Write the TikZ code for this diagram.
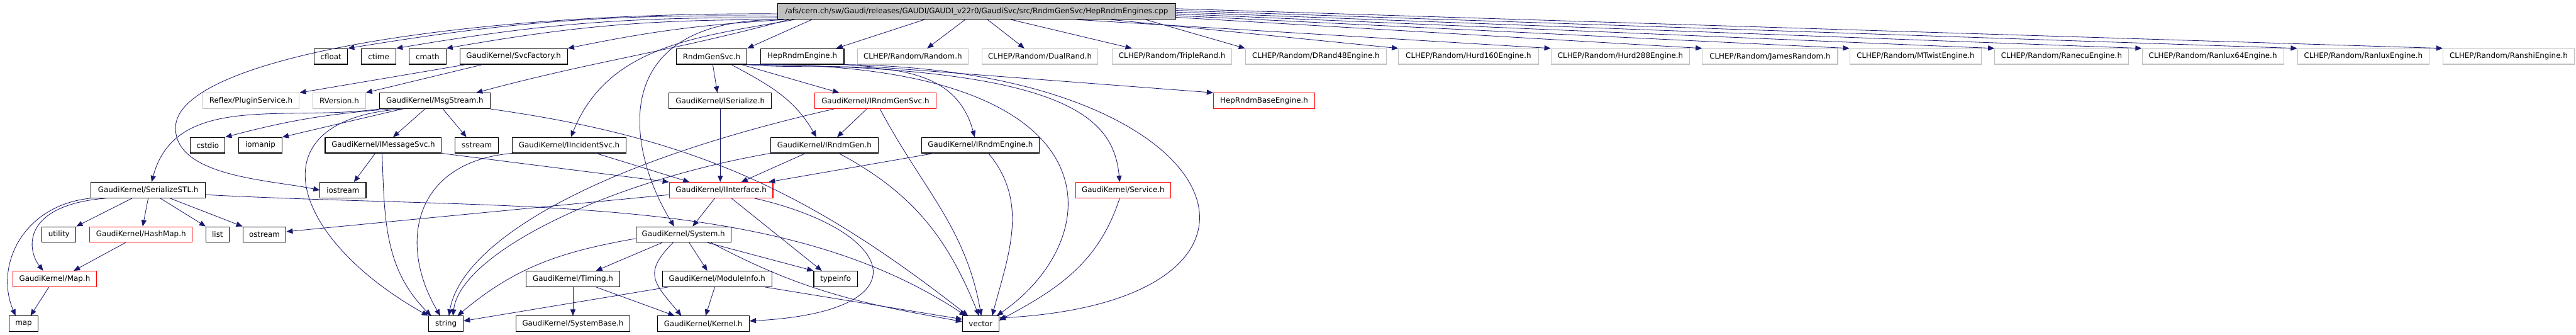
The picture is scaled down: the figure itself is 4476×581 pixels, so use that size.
\documentclass[tikz,border=0pt]{standalone}
\usepackage{fontspec}
\setmainfont{DejaVu Sans}
\usetikzlibrary{arrows.meta}
\definecolor{edgeblue}{HTML}{191970}
\newcommand{\filefont}{\fontsize{13pt}{15pt}\selectfont}

\begin{document}
\begin{tikzpicture}[x=1pt, y=1pt, >={Triangle[length=11pt,width=9pt]},
  file/.style={draw=black, line width=1.2pt, minimum height=27pt, inner sep=0pt, font=\filefont},
  redfile/.style={file, draw=red},
  extfile/.style={file, draw=gray!50},
  rootfile/.style={file, fill=gray!50},
  dep/.style={->, draw=edgeblue, line width=0.9pt}]

  \useasboundingbox (0,0) rectangle (4476,581);

  % Source file
  \node[rootfile, minimum width=692pt] (root) at (1697,561)
    {/afs/cern.ch/sw/Gaudi/releases/GAUDI/GAUDI\_v22r0/GaudiSvc/src/RndmGenSvc/HepRndmEngines.cpp};

  % Row 1
  \node[file, minimum width=58pt] (cfloat) at (575,483) {cfloat};
  \node[file, minimum width=60pt] (ctime) at (658,483) {ctime};
  \node[file, minimum width=64pt] (cmath) at (743,483) {cmath};
  \node[file, minimum width=187pt] (svcfactory) at (892.5,483) {GaudiKernel/SvcFactory.h};
  \node[file, minimum width=123pt] (rndmgensvc) at (1236.5,483) {RndmGenSvc.h};
  \node[file, minimum width=145pt] (heprndmengine) at (1394,483) {HepRndmEngine.h};
  \foreach \n/\x/\w/\f in {random/1586/192/Random, dualrand/1807/201/DualRand,
      triplerand/2036.5/207/TripleRand, drand48/2286.5/245/DRand48Engine,
      hurd160/2551.5/243/Hurd160Engine, hurd288/2815.5/241/Hurd288Engine,
      james/3075.5/235/JamesRandom, mtwist/3328.5/229/MTwistEngine,
      ranecu/3582/232/RanecuEngine, ranlux64/3845/246/Ranlux64Engine,
      ranlux/4106.5/229/RanluxEngine, ranshi/4359/228/RanshiEngine}
    \node[extfile, minimum width=\w pt] (\n) at (\x,483) {CLHEP/Random/\f.h};

  % Row 2
  \node[extfile, minimum width=168pt] (pluginservice) at (436,406) {Reflex/PluginService.h};
  \node[extfile, minimum width=91pt] (rversion) at (589.5,406) {RVersion.h};
  \node[file, minimum width=192pt] (msgstream) at (755.5,406) {GaudiKernel/MsgStream.h};
  \node[file, minimum width=178pt] (iserialize) at (1251.5,406) {GaudiKernel/ISerialize.h};
  \node[redfile, minimum width=211pt] (irndmgensvc) at (1521,406) {GaudiKernel/IRndmGenSvc.h};
  \node[redfile, minimum width=176pt] (heprndmbaseengine) at (2196.5,406) {HepRndmBaseEngine.h};

  % Row 3
  \node[file, minimum width=60pt] (cstdio) at (361,329) {cstdio};
  \node[file, minimum width=75pt] (iomanip) at (452.5,329) {iomanip};
  \node[file, minimum width=202pt] (imessagesvc) at (666,329) {GaudiKernel/IMessageSvc.h};
  \node[file, minimum width=75pt] (sstream) at (828.5,329) {sstream};
  \node[file, minimum width=198pt] (iincidentsvc) at (989,329) {GaudiKernel/IIncidentSvc.h};
  \node[file, minimum width=187pt] (irndmgen) at (1432.5,329) {GaudiKernel/IRndmGen.h};
  \node[file, minimum width=205pt] (irndmengine) at (1703.5,329) {GaudiKernel/IRndmEngine.h};

  % Row 4
  \node[file, minimum width=199pt] (serializestl) at (257.5,251) {GaudiKernel/SerializeSTL.h};
  \node[file, minimum width=80pt] (iostream) at (596,251) {iostream};
  \node[redfile, minimum width=180pt] (iinterface) at (1253,251) {GaudiKernel/IInterface.h};
  \node[redfile, minimum width=165pt] (service) at (1951.5,251) {GaudiKernel/Service.h};

  % Row 5
  \node[file, minimum width=59pt] (utility) at (102.5,174) {utility};
  \node[redfile, minimum width=178pt] (hashmap) at (245,174) {GaudiKernel/HashMap.h};
  \node[file, minimum width=40pt] (list) at (378,174) {list};
  \node[file, minimum width=75pt] (ostream) at (459.5,174) {ostream};
  \node[file, minimum width=165pt] (system) at (1187.5,174) {GaudiKernel/System.h};

  % Row 6
  \node[redfile, minimum width=146pt] (maph) at (95,97) {GaudiKernel/Map.h};
  \node[file, minimum width=162pt] (timing) at (995.5,97) {GaudiKernel/Timing.h};
  \node[file, minimum width=190pt] (moduleinfo) at (1246,97) {GaudiKernel/ModuleInfo.h};
  \node[file, minimum width=76pt] (typeinfo) at (1452,97) {typeinfo};

  % Row 7
  \node[file, minimum width=50pt] (map) at (41,19) {map};
  \node[file, minimum width=60pt] (string) at (775,19) {string};
  \node[file, minimum width=197pt] (systembase) at (995.5,19) {GaudiKernel/SystemBase.h};
  \node[file, minimum width=160pt] (kernel) at (1222,19) {GaudiKernel/Kernel.h};
  \node[file, minimum width=63pt] (vector) at (1704,19) {vector};

  % Includes of the source file
  \draw[dep] ([yshift=-4pt]root.west) .. controls (800,560) and (305,480) .. (305,359)
    to[out=-90,in=168,looseness=0.8] (iostream.west);
  \draw[dep] ([yshift=-8pt]root.west) to[bend right=5] (cfloat.north east);
  \draw[dep] ([yshift=-11pt]root.west) to[bend right=5] (ctime.north east);
  \draw[dep] ([xshift=6pt]root.south west) to[bend right=5] (cmath.north east);
  \draw[dep] ([xshift=12pt]root.south west) to[bend right=4] (svcfactory.north east);
  \draw[dep] ([xshift=20pt]root.south west) to[out=195,in=15] ([xshift=72pt]msgstream.north);
  \draw[dep] ([xshift=30pt]root.south west) to[out=190,in=68] ([xshift=3pt]iincidentsvc.north);
  \draw[dep] (root.south west) .. controls (1050,545) and (1090,320) .. ([xshift=-16pt]system.north);
  \draw[dep] ([xshift=60pt]root.south west) -- (rndmgensvc.north east);
  \draw[dep] ([xshift=-91pt]root.south) -- ([xshift=59pt]heprndmengine.north);
  \draw[dep] ([xshift=-20pt]root.south) -- ([xshift=25pt]random.north);
  \draw[dep] ([xshift=19pt]root.south) -- ([xshift=-27pt]dualrand.north);
  \draw[dep] ([xshift=60pt]root.south) -- ([xshift=-70pt]triplerand.north);
  \foreach \n/\dx/\dy in {drand48/-53/0, hurd160/-113/0, hurd288/-173/0, james/0/4,
      mtwist/0/7, ranecu/0/10, ranlux64/0/13, ranlux/0/16, ranshi/0/19}
    \draw[dep] ([xshift=\dx pt, yshift=\dy pt]root.south east) -- (\n.north west);

  % SvcFactory.h
  \draw[dep] ([xshift=11pt]svcfactory.south west) -- (pluginservice.north east);
  \draw[dep] ([xshift=40pt]svcfactory.south west) -- (rversion.north east);

  % MsgStream.h
  \draw[dep] (msgstream.south west) to[out=188,in=75] ([xshift=6pt]serializestl.north);
  \draw[dep] ([xshift=19pt]msgstream.south west) to[bend right=5] (cstdio.north east);
  \draw[dep] ([xshift=40pt]msgstream.south west) -- (iomanip.north east);
  \draw[dep] ([xshift=-17pt]msgstream.south) -- ([xshift=17pt]imessagesvc.north);
  \draw[dep] ([xshift=14pt]msgstream.south) -- ([xshift=-18pt]sstream.north);
  \draw[dep] ([xshift=-55pt]msgstream.south) .. controls (440,375) and (500,170) .. ([xshift=-31pt]string.north);
  \draw[dep] (msgstream.south east) to[out=-8,in=142] ([xshift=-22pt]vector.north);

  % IMessageSvc.h, IIncidentSvc.h
  \draw[dep] ([xshift=-14pt]imessagesvc.south) -- ([xshift=19pt]iostream.north);
  \draw[dep] ([xshift=-2pt]imessagesvc.south) to[out=-88,in=135] ([xshift=-26pt]string.north);
  \draw[dep] (imessagesvc.south east) -- (iinterface.north west);
  \draw[dep] (iincidentsvc.south west) .. controls (720,300) and (690,160) .. ([xshift=-10pt]string.north);
  \draw[dep] ([xshift=47pt]iincidentsvc.south) -- ([xshift=-55pt]iinterface.north);

  % SerializeSTL.h
  \draw[dep] (serializestl.south west) .. controls (40,225) and (-10,120) .. ([xshift=-14pt]map.north);
  \draw[dep] ([xshift=26pt]serializestl.south west) .. controls (40,225) and (45,150) .. ([xshift=-20pt]maph.north);
  \draw[dep] ([xshift=-28pt]serializestl.south) -- (utility.north east);
  \draw[dep] (serializestl.south) -- ([xshift=3pt]hashmap.north);
  \draw[dep] ([xshift=21pt]serializestl.south) -- (list.north west);
  \draw[dep] ([xshift=38pt]serializestl.south) -- (ostream.north west);
  \draw[dep] ([yshift=-8pt]serializestl.east) .. controls (900,215) and (1350,250) .. ([xshift=-26pt]vector.north);
  \draw[dep] ([xshift=-27pt]hashmap.south) -- ([xshift=33pt]maph.north);
  \draw[dep] ([xshift=-10pt]maph.south) -- ([xshift=12pt]map.north);

  % RndmGenSvc.h, HepRndmEngine.h
  \draw[dep] ([xshift=2pt]rndmgensvc.south) -- ([xshift=-5pt]iserialize.north);
  \draw[dep] ([xshift=34pt]rndmgensvc.south) to[out=-28,in=120] ([xshift=-14pt]irndmgen.north);
  \draw[dep] ([xshift=52pt]rndmgensvc.south) -- ([xshift=-63pt]irndmgensvc.north);
  \draw[dep] (rndmgensvc.south east) to[out=-5,in=105] ([xshift=-10pt]irndmengine.north);
  \draw[dep] (rndmgensvc.south east) .. controls (1950,475) and (1930,170) .. ([xshift=28pt]vector.north);
  \draw[dep] (rndmgensvc.south east) .. controls (1850,465) and (1935,380) .. ([xshift=-6pt]service.north);
  \draw[dep] (heprndmengine.south east) -- (heprndmbaseengine.north west);
  \draw[dep] (heprndmengine.south east) .. controls (2150,460) and (2300,60) .. ([yshift=-4pt]vector.north east);

  % Interfaces
  \draw[dep] (iserialize.south) -- (iserialize.south |- iinterface.north);
  \draw[dep] ([xshift=-72pt]irndmgensvc.south) .. controls (1000,290) and (800,150) .. ([xshift=5pt]string.north);
  \draw[dep] ([xshift=-15pt]irndmgensvc.south) -- ([xshift=22pt]irndmgen.north);
  \draw[dep] ([xshift=8pt]irndmgensvc.south) to[out=-62,in=100] ([xshift=1pt]vector.north);
  \draw[dep] ([xshift=-33pt]irndmgen.south) -- ([xshift=35pt]iinterface.north);
  \draw[dep] (irndmgen.south west) .. controls (1050,265) and (800,140) .. ([xshift=12pt]string.north);
  \draw[dep] ([xshift=25pt]irndmgen.south) to[out=-28,in=112] ([xshift=-3pt]vector.north);
  \draw[dep] ([xshift=22pt]irndmengine.south west) -- ([xshift=-8pt]iinterface.north east);
  \draw[dep] ([xshift=14pt]irndmengine.south) to[out=-50,in=75] ([xshift=20pt]vector.north);

  % IInterface.h
  \draw[dep] ([xshift=-11pt]iinterface.south) -- ([xshift=16pt]system.north);
  \draw[dep] ([xshift=18pt]iinterface.south) -- ([xshift=-24pt]typeinfo.north);
  \draw[dep] ([yshift=-8pt]iinterface.west) -- ([yshift=5pt]ostream.east);
  \draw[dep] ([xshift=58pt]iinterface.south) .. controls (1560,180) and (1610,40) .. ([yshift=5pt]kernel.east);

  % System.h
  \draw[dep] ([yshift=-7pt]system.west) to[out=190,in=40] ([xshift=20pt]string.north);
  \draw[dep] ([xshift=-37pt]system.south) -- ([xshift=40pt]timing.north);
  \draw[dep] ([xshift=-18pt]system.south) to[out=-135,in=130,looseness=1.5] ([xshift=-38pt]kernel.north);
  \draw[dep] ([xshift=10pt]system.south) -- ([xshift=-17pt]moduleinfo.north);
  \draw[dep] ([xshift=42pt]system.south) -- (typeinfo.north west);
  \draw[dep] ([xshift=48pt]system.south) to[out=-28,in=170] ([yshift=4pt]vector.west);

  % Timing.h, ModuleInfo.h, Service.h
  \draw[dep] (timing.south) -- (systembase.north);
  \draw[dep] ([xshift=40pt]timing.south) -- ([xshift=-50pt]kernel.north);
  \draw[dep] ([xshift=11pt]moduleinfo.south west) -- ([yshift=5pt]string.east);
  \draw[dep] ([xshift=-4pt]moduleinfo.south) -- ([xshift=4pt]kernel.north);
  \draw[dep] ([xshift=-13pt]moduleinfo.south east) -- ([yshift=8pt]vector.west);
  \draw[dep] ([xshift=-6pt]service.south) to[out=-108,in=28] ([yshift=6pt]vector.east);
\end{tikzpicture}
\end{document}
